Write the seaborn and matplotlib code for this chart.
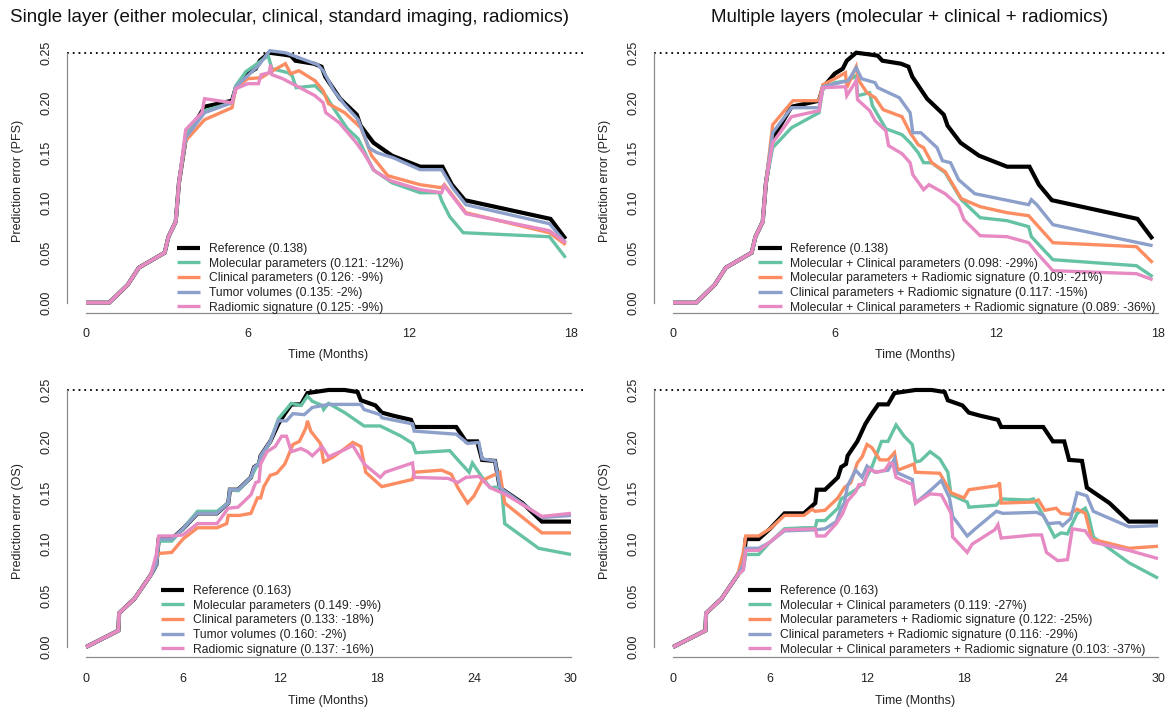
import matplotlib
matplotlib.use("Agg")
import matplotlib.pyplot as plt
import seaborn as sns

# ---------------- data ----------------
# PFS: shared early part (all models identical before month ~3.5)
pfs_t0 = [0, 0.86, 1.55, 1.96, 2.92, 3.06, 3.33, 3.45]
pfs_v0 = [0, 0, 0.018, 0.035, 0.05, 0.066, 0.081, 0.12]

pfs_ref_t = [3.7, 4.4, 5.42, 5.56, 6.0, 6.3, 6.45, 6.8, 7.36, 7.6, 7.77, 8.46, 8.74, 8.88,
             9.43, 10.05, 10.19, 10.67, 11.36, 12.4, 13.23, 13.58, 14.06, 17.24, 17.8]
pfs_ref_v = [0.164, 0.196, 0.202, 0.215, 0.229, 0.234, 0.242, 0.25, 0.248, 0.247, 0.242, 0.239,
             0.236, 0.226, 0.204, 0.188, 0.177, 0.16, 0.147, 0.136, 0.136, 0.118, 0.1025, 0.0838, 0.0637]

# single layer PFS
pfs_mol_t = [3.7, 4.4, 5.42, 5.56, 5.93, 6.3, 6.76, 6.9, 7.5, 7.65, 7.8, 8.5, 8.9, 9.2, 9.7,
             10.1, 10.66, 11.35, 12.4, 13.1, 13.2, 13.5, 14.0, 17.2, 17.8]
pfs_mol_v = [0.168, 0.192, 0.2, 0.217, 0.231, 0.238, 0.247, 0.234, 0.23, 0.227, 0.215, 0.217,
             0.207, 0.194, 0.174, 0.164, 0.133, 0.12, 0.11, 0.11, 0.102, 0.086, 0.07, 0.066, 0.045]
pfs_cli_t = [3.7, 4.4, 5.42, 5.56, 6.0, 6.5, 6.8, 7.4, 7.6, 7.9, 8.5, 8.8, 9.0, 9.6, 10.2,
             10.6, 11.2, 12.4, 13.2, 13.3, 14.1, 17.2, 17.8]
pfs_cli_v = [0.162, 0.183, 0.195, 0.215, 0.224, 0.225, 0.23, 0.239, 0.229, 0.232, 0.222, 0.212,
             0.199, 0.19, 0.175, 0.147, 0.127, 0.118, 0.115, 0.118, 0.09, 0.07, 0.058]
pfs_tum_t = [3.7, 4.4, 5.42, 5.56, 6.0, 6.4, 6.82, 7.4, 7.8, 8.6, 8.8, 9.2, 9.6, 10.1, 10.5,
             10.8, 11.4, 12.4, 13.2, 13.6, 14.1, 17.2, 17.8]
pfs_tum_v = [0.165, 0.19, 0.2, 0.216, 0.227, 0.237, 0.252, 0.25, 0.246, 0.238, 0.232, 0.212,
             0.198, 0.183, 0.155, 0.15, 0.145, 0.133, 0.133, 0.115, 0.098, 0.079, 0.06]
pfs_rad_t = [3.7, 4.3, 4.4, 5.42, 5.56, 6.0, 6.4, 6.5, 6.8, 6.85, 6.9, 7.3, 7.8, 8.5, 8.8, 8.9,
             9.4, 10.0, 10.3, 10.7, 11.3, 12.4, 13.2, 13.3, 14.1, 17.2, 17.8]
pfs_rad_v = [0.173, 0.19, 0.204, 0.2, 0.214, 0.219, 0.219, 0.228, 0.23, 0.238, 0.228, 0.224,
             0.217, 0.207, 0.2, 0.19, 0.18, 0.161, 0.15, 0.132, 0.122, 0.113, 0.11, 0.117, 0.089,
             0.072, 0.06]

# multiple layers PFS
pfs_mc_t = [3.7, 4.4, 5.42, 5.56, 6.0, 6.5, 6.8, 6.85, 7.3, 7.4, 7.9, 8.5, 8.8, 9.1, 9.3, 9.6,
            10.1, 10.7, 11.4, 12.4, 13.2, 13.3, 14.1, 17.2, 17.8]
pfs_mc_v = [0.155, 0.175, 0.19, 0.214, 0.22, 0.222, 0.227, 0.207, 0.21, 0.197, 0.174, 0.168,
            0.16, 0.15, 0.14, 0.14, 0.13, 0.103, 0.085, 0.082, 0.076, 0.066, 0.043, 0.037, 0.026]
pfs_mr_t = [3.7, 4.45, 5.42, 5.56, 6.0, 6.4, 6.45, 6.8, 6.9, 7.2, 7.5, 7.8, 8.5, 8.8, 9.1, 9.3,
            9.6, 10.1, 10.7, 11.4, 12.4, 13.2, 14.1, 17.2, 17.8]
pfs_mr_v = [0.178, 0.202, 0.202, 0.218, 0.224, 0.23, 0.215, 0.236, 0.222, 0.21, 0.205, 0.193,
            0.186, 0.17, 0.158, 0.155, 0.14, 0.131, 0.104, 0.096, 0.09, 0.087, 0.06, 0.056, 0.04]
pfs_cr_t = [3.7, 4.4, 5.42, 5.56, 6.5, 6.8, 7.0, 7.5, 7.6, 8.4, 8.8, 8.9, 9.2, 9.8, 10.0, 10.3,
            10.6, 11.2, 13.2, 13.3, 13.5, 14.1, 17.8]
pfs_cr_v = [0.17, 0.195, 0.195, 0.216, 0.222, 0.235, 0.224, 0.22, 0.215, 0.205, 0.19, 0.17,
            0.17, 0.155, 0.142, 0.14, 0.123, 0.109, 0.098, 0.103, 0.098, 0.078, 0.057]
pfs_all_t = [3.7, 4.4, 5.42, 5.56, 6.4, 6.45, 6.8, 6.85, 7.3, 7.5, 7.9, 8.0, 8.5, 8.8, 8.9,
             9.3, 9.5, 10.1, 10.6, 10.8, 11.4, 12.4, 13.2, 13.5, 14.1, 17.2, 17.8]
pfs_all_v = [0.16, 0.186, 0.192, 0.215, 0.216, 0.207, 0.222, 0.203, 0.192, 0.182, 0.172, 0.157,
             0.149, 0.14, 0.128, 0.113, 0.118, 0.109, 0.097, 0.083, 0.067, 0.066, 0.06, 0.05,
             0.032, 0.029, 0.023]

# OS: shared early part
os_t0 = [0, 2.0, 2.05, 3.0, 4.0]
os_v0 = [0, 0.016, 0.033, 0.047, 0.07]

os_ref_t = [4.35, 4.5, 5.3, 6.0, 6.9, 8.1, 8.8, 8.9, 9.4, 10.2, 10.4, 10.7, 10.8, 11.4, 11.9,
            12.3, 12.7, 13.3, 13.7, 15.0, 16.0, 16.8, 17.0, 17.9, 18.3, 19.0, 20.1, 20.3, 22.9,
            23.5, 24.2, 24.5, 25.3, 25.6, 27.0, 28.2, 30.0]
os_ref_v = [0.08, 0.105, 0.105, 0.115, 0.13, 0.13, 0.14, 0.153, 0.153, 0.165, 0.175, 0.178,
            0.186, 0.2, 0.217, 0.227, 0.236, 0.236, 0.247, 0.25, 0.25, 0.248, 0.24, 0.235, 0.228,
            0.225, 0.221, 0.214, 0.214, 0.2, 0.2, 0.182, 0.181, 0.155, 0.14, 0.122, 0.122]

# single layer OS
os_mol_t = [4.35, 4.5, 5.3, 6.0, 6.9, 8.1, 8.8, 8.9, 9.4, 10.2, 10.8, 11.4, 11.9, 12.7, 13.3,
            13.7, 14.0, 14.6, 14.7, 15.0, 16.0, 17.2, 18.2, 19.5, 20.2, 20.4, 22.5, 23.0, 23.7,
            23.9, 24.5, 25.0, 25.7, 25.9, 28.0, 30.0]
os_mol_v = [0.08, 0.103, 0.103, 0.115, 0.132, 0.132, 0.14, 0.153, 0.152, 0.165, 0.183, 0.2,
            0.222, 0.237, 0.235, 0.244, 0.239, 0.235, 0.231, 0.237, 0.228, 0.215, 0.215, 0.205,
            0.198, 0.189, 0.191, 0.182, 0.17, 0.179, 0.165, 0.155, 0.156, 0.12, 0.096, 0.09]
os_cli_t = [4.35, 4.5, 5.3, 6.0, 6.9, 8.1, 8.7, 8.8, 9.5, 10.2, 10.6, 10.8, 11.0, 11.4, 11.8,
            12.3, 12.8, 13.2, 13.6, 13.7, 13.9, 14.5, 14.7, 15.3, 16.0, 16.5, 17.0, 17.3, 18.3,
            20.2, 20.3, 22.0, 22.6, 23.0, 23.6, 24.0, 24.5, 25.6, 25.9, 28.2, 30.0]
os_cli_v = [0.085, 0.091, 0.092, 0.105, 0.116, 0.116, 0.12, 0.128, 0.128, 0.13, 0.145, 0.145,
            0.156, 0.167, 0.169, 0.178, 0.197, 0.2, 0.213, 0.22, 0.21, 0.198, 0.18, 0.185, 0.193,
            0.199, 0.195, 0.17, 0.156, 0.163, 0.17, 0.172, 0.168, 0.155, 0.14, 0.147, 0.162,
            0.17, 0.14, 0.111, 0.111]
os_tum_t = [4.35, 4.5, 5.3, 6.0, 6.9, 8.1, 8.8, 8.9, 9.4, 10.2, 10.4, 10.7, 10.8, 11.4, 11.9,
            12.4, 12.8, 13.5, 14.0, 15.0, 17.0, 17.2, 18.2, 18.3, 20.2, 20.3, 22.9, 23.6, 24.3,
            24.5, 25.3, 25.6, 28.2, 30.0]
os_tum_v = [0.08, 0.105, 0.105, 0.115, 0.13, 0.13, 0.14, 0.153, 0.153, 0.165, 0.175, 0.178,
            0.186, 0.2, 0.22, 0.22, 0.227, 0.226, 0.233, 0.236, 0.236, 0.231, 0.226, 0.223,
            0.217, 0.21, 0.207, 0.198, 0.199, 0.183, 0.181, 0.155, 0.126, 0.128]
os_rad_t = [4.35, 4.5, 5.3, 6.0, 6.9, 8.1, 8.8, 9.4, 10.2, 10.5, 10.7, 10.8, 11.2, 11.7, 12.1,
            12.4, 12.7, 13.3, 13.7, 14.0, 14.6, 15.0, 16.0, 16.5, 17.2, 18.2, 18.5, 20.0, 20.2,
            20.3, 22.4, 23.0, 23.5, 24.3, 25.0, 26.0, 28.2, 30.0]
os_rad_v = [0.09, 0.108, 0.108, 0.109, 0.12, 0.12, 0.135, 0.136, 0.148, 0.16, 0.161, 0.178,
            0.19, 0.195, 0.205, 0.205, 0.19, 0.193, 0.19, 0.186, 0.195, 0.185, 0.192, 0.196,
            0.178, 0.165, 0.17, 0.178, 0.179, 0.165, 0.164, 0.16, 0.165, 0.166, 0.155, 0.148,
            0.127, 0.13]

# multiple layers OS
os_mc_t = [4.35, 4.5, 5.3, 6.0, 6.9, 8.1, 8.8, 8.9, 9.4, 10.2, 10.4, 11.3, 11.8, 12.3, 12.9,
           13.3, 13.8, 14.3, 14.8, 15.0, 15.3, 15.9, 16.5, 17.0, 17.2, 18.2, 18.3, 20.0, 20.3,
           22.0, 22.3, 22.9, 23.6, 24.0, 24.4, 25.0, 25.5, 25.7, 26.0, 28.2, 30.0]
os_mc_v = [0.075, 0.09, 0.09, 0.102, 0.115, 0.116, 0.116, 0.123, 0.123, 0.135, 0.144, 0.153,
           0.16, 0.175, 0.2, 0.2, 0.216, 0.205, 0.197, 0.18, 0.181, 0.19, 0.183, 0.17, 0.148,
           0.141, 0.136, 0.138, 0.144, 0.143, 0.144, 0.128, 0.107, 0.111, 0.11, 0.13, 0.135,
           0.128, 0.107, 0.082, 0.067]
os_mr_t = [4.35, 4.5, 5.3, 6.0, 6.9, 8.1, 8.6, 8.8, 9.4, 10.2, 10.6, 11.0, 11.4, 11.7, 12.0,
           12.3, 12.8, 13.3, 13.7, 13.9, 14.9, 15.0, 16.5, 17.2, 18.0, 18.3, 20.1, 20.2, 20.3,
           22.3, 22.6, 23.0, 23.7, 24.0, 24.5, 25.0, 25.5, 25.9, 28.2, 30.0]
os_mr_v = [0.092, 0.108, 0.108, 0.115, 0.128, 0.128, 0.134, 0.132, 0.133, 0.145, 0.155, 0.16,
           0.179, 0.185, 0.197, 0.194, 0.182, 0.182, 0.189, 0.172, 0.178, 0.17, 0.169, 0.15,
           0.145, 0.153, 0.157, 0.16, 0.14, 0.141, 0.143, 0.133, 0.135, 0.13, 0.129, 0.134,
           0.13, 0.105, 0.096, 0.098]
os_cr_t = [4.35, 4.5, 5.3, 6.0, 6.9, 8.8, 9.4, 10.1, 10.4, 10.6, 10.8, 11.3, 11.7, 12.0, 12.5,
           13.3, 13.7, 13.8, 14.8, 15.0, 15.9, 16.6, 17.1, 17.3, 18.2, 18.7, 20.0, 20.4, 22.5,
           22.9, 23.2, 23.9, 24.1, 24.6, 25.0, 25.6, 26.0, 28.2, 30.0]
os_cr_v = [0.08, 0.096, 0.096, 0.102, 0.113, 0.114, 0.115, 0.122, 0.135, 0.14, 0.157, 0.172,
           0.165, 0.176, 0.17, 0.172, 0.183, 0.17, 0.163, 0.14, 0.152, 0.162, 0.145, 0.127,
           0.108, 0.115, 0.132, 0.13, 0.131, 0.128, 0.12, 0.121, 0.118, 0.125, 0.15, 0.147,
           0.132, 0.117, 0.118]
os_all_t = [4.35, 4.5, 5.3, 6.0, 6.9, 8.8, 8.9, 9.4, 10.1, 10.5, 10.8, 11.3, 11.5, 11.8, 12.1,
            12.6, 13.1, 13.4, 13.6, 13.8, 14.8, 15.0, 15.9, 16.6, 17.2, 17.3, 18.2, 18.5, 19.9,
            20.1, 20.3, 22.3, 22.8, 23.1, 23.8, 24.4, 24.7, 25.5, 26.0, 28.2, 30.0]
os_all_v = [0.075, 0.094, 0.094, 0.102, 0.114, 0.115, 0.108, 0.108, 0.12, 0.13, 0.142, 0.151,
            0.158, 0.158, 0.173, 0.17, 0.172, 0.179, 0.178, 0.165, 0.158, 0.14, 0.149, 0.148,
            0.13, 0.107, 0.092, 0.1, 0.114, 0.119, 0.106, 0.109, 0.109, 0.092, 0.084, 0.085,
            0.115, 0.113, 0.102, 0.094, 0.086]

single_labels_pfs = ["Reference (0.138)", "Molecular parameters (0.121: -12%)",
                     "Clinical parameters (0.126: -9%)", "Tumor volumes (0.135: -2%)",
                     "Radiomic signature (0.125: -9%)"]
multi_labels_pfs = ["Reference (0.138)", "Molecular + Clinical parameters (0.098: -29%)",
                    "Molecular parameters + Radiomic signature (0.109: -21%)",
                    "Clinical parameters + Radiomic signature (0.117: -15%)",
                    "Molecular + Clinical parameters + Radiomic signature (0.089: -36%)"]
single_labels_os = ["Reference (0.163)", "Molecular parameters (0.149: -9%)",
                    "Clinical parameters (0.133: -18%)", "Tumor volumes (0.160: -2%)",
                    "Radiomic signature (0.137: -16%)"]
multi_labels_os = ["Reference (0.163)", "Molecular + Clinical parameters (0.119: -27%)",
                   "Molecular parameters + Radiomic signature (0.122: -25%)",
                   "Clinical parameters + Radiomic signature (0.116: -29%)",
                   "Molecular + Clinical parameters + Radiomic signature (0.103: -37%)"]

titles = ["Single layer (either molecular, clinical, standard imaging, radiomics)",
          "Multiple layers (molecular + clinical + radiomics)"]
pfs_ticks = [0, 6, 12, 18]
os_ticks = [0, 6, 12, 18, 24, 30]
y_ticks = [0.0, 0.05, 0.10, 0.15, 0.20, 0.25]

# ---------------- style ----------------
sns.set_style("white")
plt.rcParams['font.family'] = ['Liberation Sans', 'DejaVu Sans']
colors = ["black", "#66C2A5", "#FC8D62", "#8DA0CB", "#E78AC3"]
AXC = "#8a8a8a"

W, H = 1165, 715
fig = plt.figure(figsize=(W / 100, H / 100), dpi=100)


def add_ax(left, right, top, bottom):
    return fig.add_axes([left / W, 1 - bottom / H, (right - left) / W, (bottom - top) / H])


panels = [
    dict(box=(66.6, 590.4, 42.7, 312.7), tmax=18, ticks=pfs_ticks, ylab="Prediction error (PFS)",
         series=[(pfs_ref_t, pfs_ref_v), (pfs_mol_t, pfs_mol_v), (pfs_cli_t, pfs_cli_v),
                 (pfs_tum_t, pfs_tum_v), (pfs_rad_t, pfs_rad_v)],
         prefix=(pfs_t0, pfs_v0), labels=single_labels_pfs, leg=(176.5, 243), ylabx=18, xlaby=355),
    dict(box=(653.6, 1177.4, 42.7, 312.7), tmax=18, ticks=pfs_ticks, ylab="Prediction error (PFS)",
         series=[(pfs_ref_t, pfs_ref_v), (pfs_mc_t, pfs_mc_v), (pfs_mr_t, pfs_mr_v),
                 (pfs_cr_t, pfs_cr_v), (pfs_all_t, pfs_all_v)],
         prefix=(pfs_t0, pfs_v0), labels=multi_labels_pfs, leg=(758, 243), ylabx=605, xlaby=355),
    dict(box=(66.6, 590.4, 379.7, 657.3), tmax=30, ticks=os_ticks, ylab="Prediction error (OS)",
         series=[(os_ref_t, os_ref_v), (os_mol_t, os_mol_v), (os_cli_t, os_cli_v),
                 (os_tum_t, os_tum_v), (os_rad_t, os_rad_v)],
         prefix=(os_t0, os_v0), labels=single_labels_os, leg=(160.5, 585), ylabx=18, xlaby=701),
    dict(box=(653.6, 1177.4, 379.7, 657.3), tmax=30, ticks=os_ticks, ylab="Prediction error (OS)",
         series=[(os_ref_t, os_ref_v), (os_mc_t, os_mc_v), (os_mr_t, os_mr_v),
                 (os_cr_t, os_cr_v), (os_all_t, os_all_v)],
         prefix=(os_t0, os_v0), labels=multi_labels_os, leg=(747.5, 585), ylabx=605, xlaby=701),
]

for p in panels:
    l, r, t, b = p["box"]
    ax = add_ax(l, r, t, b)
    tmax = p["tmax"]
    pad = 0.04 * tmax
    ax.set_xlim(-pad, tmax + pad)
    ax.set_ylim(-0.01, 0.26)
    ax.hlines(0.25, -pad, tmax + 0.6 * pad, colors="black", linestyles=(0, (1, 2.2)), lw=1.3)
    t0, v0 = p["prefix"]
    for i, ((ts, vs), lab) in enumerate(zip(p["series"], p["labels"])):
        sns.lineplot(x=list(t0) + list(ts), y=list(v0) + list(vs), ax=ax, color=colors[i],
                     lw=3.0 if i == 0 else 2.4, label=lab, estimator=None, sort=False,
                     solid_joinstyle="miter", solid_capstyle="butt")
    for s in ["top", "right"]:
        ax.spines[s].set_visible(False)
    ax.spines["left"].set_bounds(0, 0.25)
    ax.spines["bottom"].set_bounds(0, tmax)
    for s in ["left", "bottom"]:
        ax.spines[s].set_color(AXC)
        ax.spines[s].set_linewidth(0.9)
    ax.set_xticks(p["ticks"])
    ax.set_xticklabels([str(v) for v in p["ticks"]])
    ax.set_yticks(y_ticks)
    ax.set_yticklabels([f"{v:.2f}" for v in y_ticks], rotation=90, va="center")
    ax.tick_params(axis="both", direction="out", length=5, width=0.9, color=AXC,
                   labelsize=9, labelcolor="#222222")
    ax.tick_params(axis="x", pad=6)
    ax.tick_params(axis="y", pad=5)
    ax.set_xlabel("")
    ax.set_ylabel("")
    ax.grid(False)
    lx, ly = p["leg"]
    ax.legend(loc="upper left", bbox_to_anchor=(lx / W, 1 - ly / H), bbox_transform=fig.transFigure,
              frameon=False, fontsize=8.7, handlelength=1.95, handletextpad=0.7,
              labelspacing=0.22, borderpad=0, borderaxespad=0, labelcolor="#222222")
    fig.text(p["ylabx"] / W, 1 - ((t + b) / 2 + 3) / H, p["ylab"], rotation=90, ha="center",
             va="center", fontsize=9, color="#222222")
    fig.text(((l + r) / 2) / W, 1 - p["xlaby"] / H, "Time (Months)", ha="center", va="center",
             fontsize=9, color="#222222")

fig.text(290 / W, 1 - 18 / H, titles[0], ha="center", va="center", fontsize=13.5, color="#111111")
fig.text(910 / W, 1 - 18 / H, titles[1], ha="center", va="center", fontsize=13.5, color="#111111")

fig.savefig("out.png", dpi=100)
